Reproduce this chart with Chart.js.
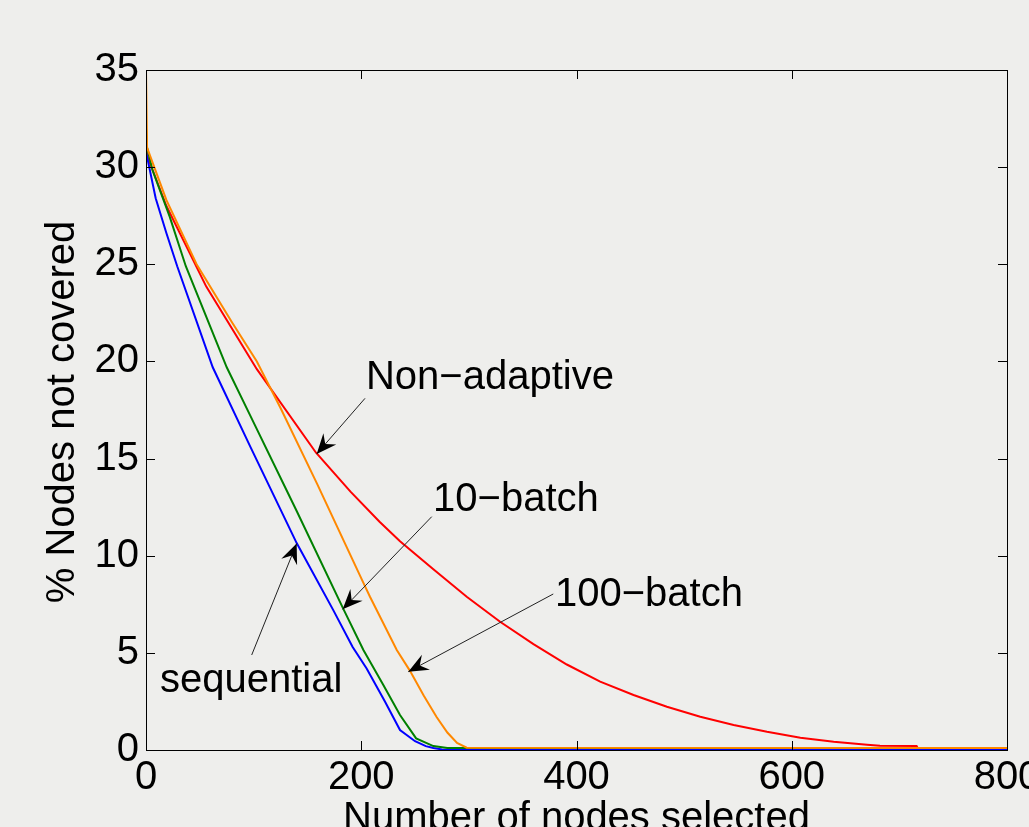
<!DOCTYPE html>
<html>
<head>
<meta charset="utf-8">
<title>% Nodes not covered</title>
<script src="https://cdn.jsdelivr.net/npm/chart.js@4.4.1/dist/chart.umd.min.js"></script>
<style>
  html, body { margin: 0; padding: 0; background: #eeeeec; }
  #wrap { width: 1029px; height: 827px; position: relative; }
</style>
</head>
<body>
<div id="wrap"><canvas id="chart"></canvas></div>
<script>
// values
const xTicks = [0, 200, 400, 600, 800];
const yTicks = [0, 5, 10, 15, 20, 25, 30, 35];

// sequential (blue)
const seqX = [0, 9, 19, 29, 62, 97, 140, 174, 192, 205, 222, 236, 250, 260, 267, 275, 285, 800];
const seqY = [30.8, 28.4, 26.6, 24.9, 19.7, 15.6, 10.65, 7.2, 5.3, 4.2, 2.5, 1.03, 0.45, 0.2, 0.1, 0.03, 0, 0];

// 10-batch (green)
const tenX = [0, 1, 6, 22, 37, 75, 97, 140, 183, 202, 220, 236, 251, 267, 280, 800];
const tenY = [32, 31, 29.85, 27.45, 24.9, 19.7, 17.2, 12.3, 7.3, 5.15, 3.4, 1.8, 0.6, 0.2, 0.1, 0.1];

// 100-batch (orange)
const hundredX = [0, 1, 19, 47, 80, 103, 125, 159, 202, 208, 233, 245, 258, 270, 280, 289, 298, 800];
const hundredY = [35, 31, 28.3, 25.0, 22.0, 20.0, 17.6, 13.7, 8.6, 7.9, 5.15, 4.1, 2.8, 1.7, 0.9, 0.36, 0.12, 0.1];

// Non-adaptive (red)
const nonX = [0, 1, 19, 56, 103, 158, 190, 217, 236, 267, 298, 329, 360, 391, 422, 453, 484, 515, 546, 577, 608, 639, 670, 682, 716, 717, 800];
const nonY = [31, 30.6, 28, 23.85, 19.6, 15.3, 13.3, 11.75, 10.75, 9.3, 7.89, 6.6, 5.45, 4.4, 3.52, 2.83, 2.23, 1.71, 1.29, 0.94, 0.63, 0.43, 0.27, 0.22, 0.2, 0.1, 0.1];

// labels with arrows, in data units
const notes = [
  { text: "Non\u2212adaptive", at: [204.4, 18.58], from: [203.5, 18.1], to: [158.6, 15.24] },
  { text: "10\u2212batch", at: [266.7, 12.3], from: [265.5, 12.01], to: [182.7, 7.24] },
  { text: "100\u2212batch", at: [380.0, 7.41], from: [378.4, 8.03], to: [243.7, 4.03] },
  { text: "sequential", at: [13.0, 2.98], from: [98.2, 4.89], to: [140.0, 10.63] }
];

const FONT = "'Liberation Sans', Arial, Helvetica, sans-serif";
const tickFont = { family: FONT, size: 40 };

const pts = (xs, ys) => xs.map((x, i) => ({ x: x, y: ys[i] }));

const frame = {
  id: "frame",
  beforeDraw(chart) {
    const ctx = chart.ctx;
    ctx.save();
    ctx.fillStyle = "#eeeeec";
    ctx.fillRect(0, 0, chart.width, chart.height);
    ctx.restore();
  },
  afterDatasetsDraw(chart) {
    const { ctx, chartArea: a, scales: { x, y } } = chart;
    ctx.save();
    ctx.strokeStyle = "#000";
    ctx.lineWidth = 1;
    ctx.strokeRect(a.left + 0.5, a.top + 0.5, a.right - a.left, a.bottom - a.top);

    // MATLAB style inward ticks on all four sides
    const tl = 9;
    ctx.beginPath();
    xTicks.forEach(v => {
      const px = Math.round(x.getPixelForValue(v)) + 0.5;
      ctx.moveTo(px, a.bottom); ctx.lineTo(px, a.bottom - tl);
      ctx.moveTo(px, a.top); ctx.lineTo(px, a.top + tl);
    });
    yTicks.forEach(v => {
      const py = Math.round(y.getPixelForValue(v)) + 0.5;
      ctx.moveTo(a.left, py); ctx.lineTo(a.left + tl, py);
      ctx.moveTo(a.right, py); ctx.lineTo(a.right - tl, py);
    });
    ctx.stroke();

    // arrows
    notes.forEach(n => {
      const x0 = x.getPixelForValue(n.from[0]), y0 = y.getPixelForValue(n.from[1]);
      const x1 = x.getPixelForValue(n.to[0]), y1 = y.getPixelForValue(n.to[1]);
      ctx.strokeStyle = "#222";
      ctx.lineWidth = 1;
      ctx.beginPath();
      ctx.moveTo(x0, y0);
      ctx.lineTo(x1, y1);
      ctx.stroke();

      const len = Math.hypot(x1 - x0, y1 - y0);
      const ux = (x1 - x0) / len, uy = (y1 - y0) / len;
      const nx = -uy, ny = ux;
      const L = 20, W = 8.5;
      ctx.fillStyle = "#000";
      ctx.beginPath();
      ctx.moveTo(x1, y1);
      ctx.lineTo(x1 - ux * L + nx * W, y1 - uy * L + ny * W);
      ctx.lineTo(x1 - ux * L * 0.65, y1 - uy * L * 0.65);
      ctx.lineTo(x1 - ux * L - nx * W, y1 - uy * L - ny * W);
      ctx.closePath();
      ctx.fill();
    });

    // annotation text
    ctx.fillStyle = "#000";
    ctx.font = "40px " + FONT;
    ctx.textAlign = "left";
    ctx.textBaseline = "alphabetic";
    notes.forEach(n => {
      ctx.fillText(n.text, x.getPixelForValue(n.at[0]), y.getPixelForValue(n.at[1]));
    });

    // axis titles
    ctx.textAlign = "center";
    ctx.fillText("Number of nodes selected", (a.left + a.right) / 2, 830);
    ctx.translate(74, (a.top + a.bottom) / 2 + 2);
    ctx.rotate(-Math.PI / 2);
    ctx.fillText("% Nodes not covered", 0, 0);
    ctx.restore();
  }
};

new Chart(document.getElementById("chart"), {
  type: "line",
  data: {
    datasets: [
      { label: "100-batch", data: pts(hundredX, hundredY), borderColor: "#ff8800" },
      { label: "10-batch", data: pts(tenX, tenY), borderColor: "#008000" },
      { label: "sequential", data: pts(seqX, seqY), borderColor: "#0000ff" },
      { label: "Non-adaptive", data: pts(nonX, nonY), borderColor: "#ff0000" }
    ]
  },
  options: {
    responsive: true,
    maintainAspectRatio: false,
    animation: false,
    layout: { autoPadding: false, padding: { top: 70, right: 22, bottom: 0, left: 0 } },
    plugins: { legend: { display: false }, tooltip: { enabled: false } },
    elements: {
      point: { radius: 0 },
      line: { borderWidth: 2, tension: 0, fill: false }
    },
    scales: {
      x: {
        type: "linear",
        min: 0,
        max: 800,
        afterBuildTicks: s => { s.ticks = xTicks.map(v => ({ value: v })); },
        afterFit: s => { s.height = 77; s.paddingLeft = 0; s.paddingRight = 0; },
        grid: { display: false, drawTicks: false },
        border: { display: false },
        ticks: { padding: 4, color: "#000", font: tickFont, maxRotation: 0, autoSkip: false }
      },
      y: {
        type: "linear",
        min: 0,
        max: 35,
        afterBuildTicks: s => { s.ticks = yTicks.map(v => ({ value: v })); },
        afterFit: s => { s.width = 146; s.paddingTop = 0; s.paddingBottom = 0; },
        grid: { display: false, drawTicks: false },
        border: { display: false },
        ticks: { padding: 7, color: "#000", font: tickFont, autoSkip: false }
      }
    }
  },
  plugins: [frame]
});
</script>
</body>
</html>
